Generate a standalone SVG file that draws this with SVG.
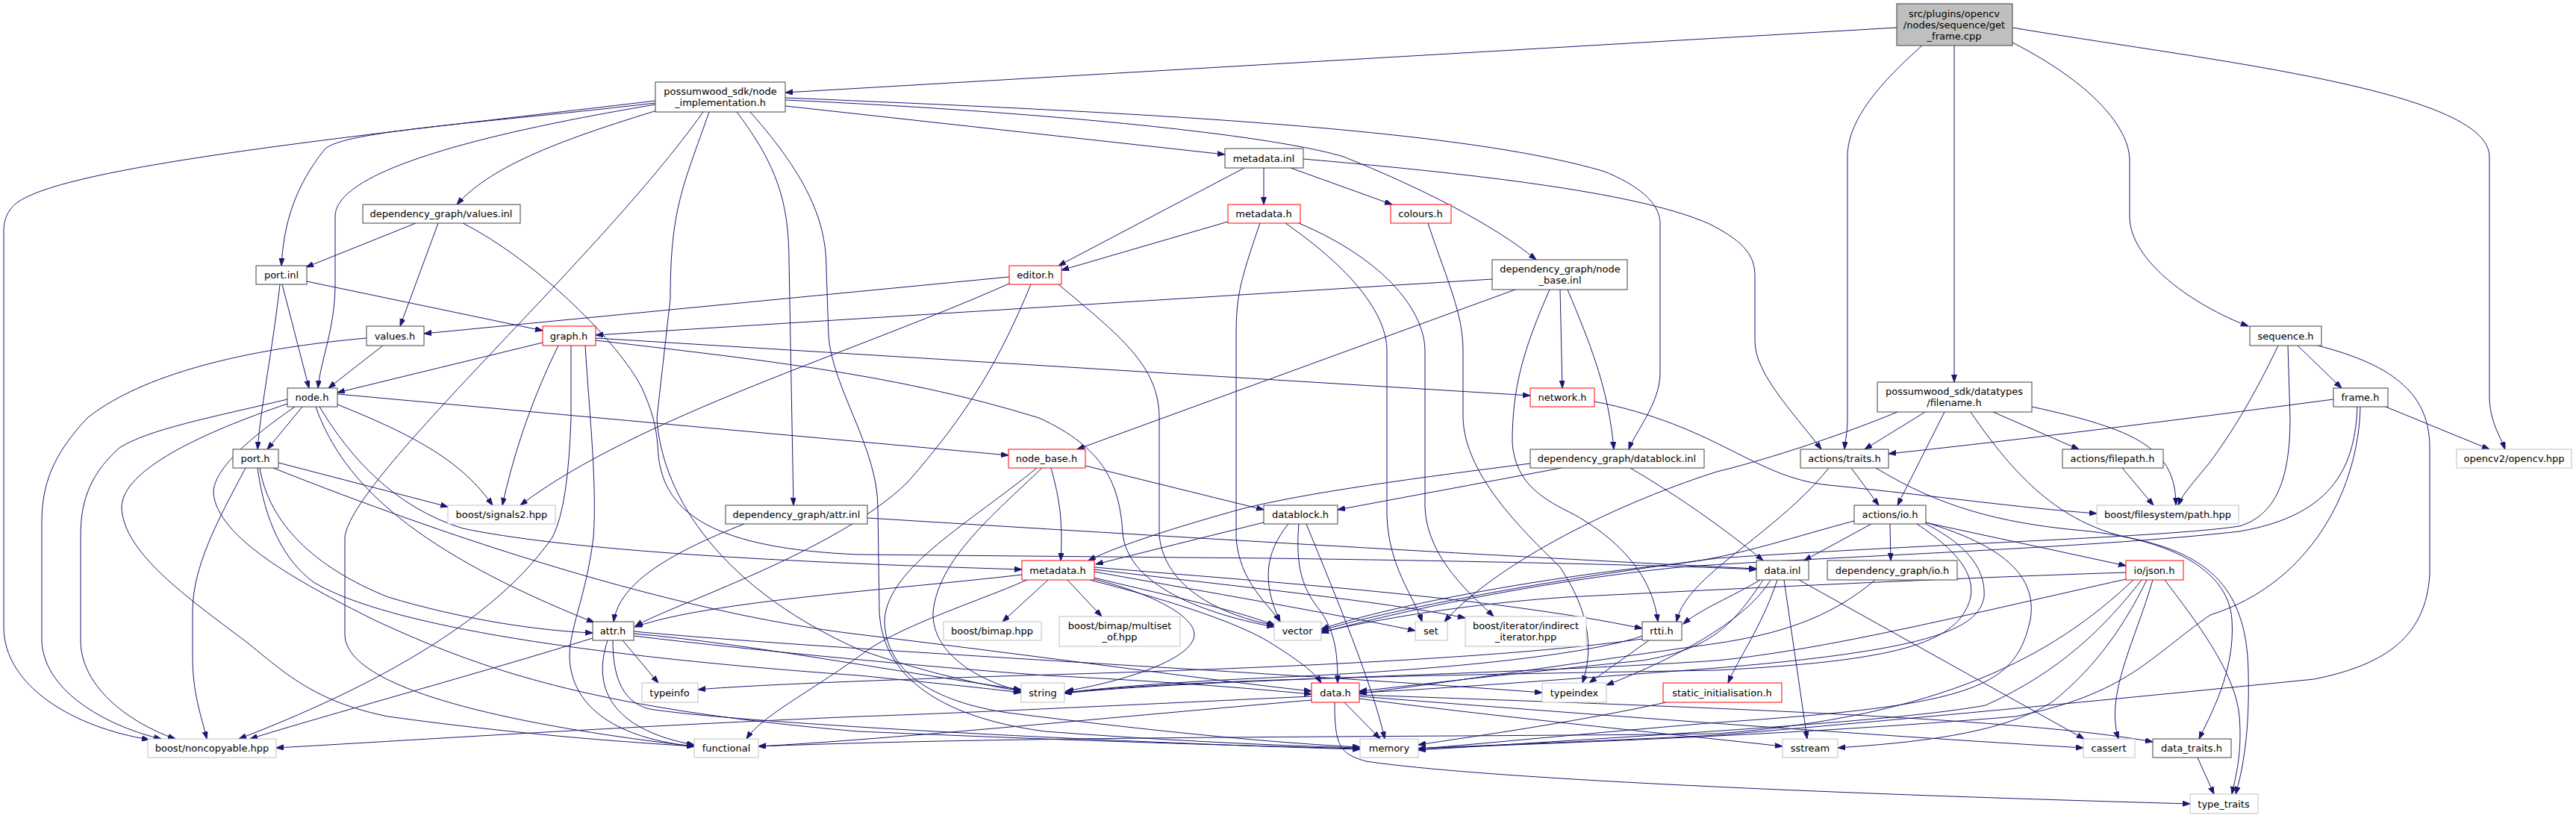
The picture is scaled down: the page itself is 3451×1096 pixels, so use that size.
<svg xmlns="http://www.w3.org/2000/svg" width="3451" height="1096" viewBox="0 0 3451 1096">
<style>
.n rect{fill:#fff;stroke:#404040;stroke-width:1}
.r rect{fill:#fff;stroke:#ff0000;stroke-width:1}
.x rect{fill:#fff;stroke:#bfbfbf;stroke-width:1}
.g rect{fill:#bfbfbf;stroke:#404040;stroke-width:1}
text{font-family:"DejaVu Sans","Liberation Sans",sans-serif;font-size:13px;text-anchor:middle;fill:#000}
#edges path{fill:none;stroke:#191970;stroke-width:1;marker-end:url(#ah)}
</style>
<defs>
<marker id="ah" markerWidth="11" markerHeight="8" refX="10" refY="3.5" orient="auto" markerUnits="userSpaceOnUse">
<path d="M0,0 L10,3.5 L0,7 z" fill="#191970" stroke="#191970" stroke-width="1"/>
</marker>
</defs>
<rect width="3451" height="1096" fill="#fff"/>
<g id="edges">
<path d="M2541,37 L1052,124"/>
<path d="M2618,61 L2618,512"/>
<path d="M2575,61 C2520,110 2475,160 2475,210 L2475,560 C2475,580 2472,590 2471,602"/>
<path d="M2696,57 C2800,110 2853,170 2853,215 L2853,290 C2853,350 2940,410 3012,437"/>
<path d="M2696,37 C2950,80 3335,120 3335,210 L3335,530 C3335,565 3350,585 3356,602"/>
<path d="M878,135 C500,180 100,220 25,270 C10,280 5,295 5,310 L5,840 C5,920 100,975 200,991"/>
<path d="M878,138 C650,165 460,175 435,200 C395,250 380,300 377,356"/>
<path d="M878,140 C640,180 449,230 449,290 L449,380 C449,440 430,480 426,520"/>
<path d="M880,148 C760,185 660,220 612,274"/>
<path d="M942,150 C800,350 470,640 462,720 L462,850 C462,940 800,985 930,1000"/>
<path d="M950,150 C915,250 898,280 898,400 L880,560 C885,650 950,780 1150,870 C1250,905 1330,920 1368,926"/>
<path d="M987,150 C1040,220 1057,270 1057,350 L1063,677"/>
<path d="M1005,150 C1085,240 1107,300 1107,360 L1110,450 C1115,520 1176,600 1176,680 L1178,817 C1180,900 1250,960 1400,980 C1600,995 1750,1000 1822,1002"/>
<path d="M1052,142 L1641,207"/>
<path d="M1052,134 C1400,150 1700,180 1800,210 C1900,250 2000,300 2058,348"/>
<path d="M1052,131 C1500,150 1950,170 2150,230 C2210,255 2224,280 2224,300 L2224,500 C2224,540 2190,580 2182,602"/>
<path d="M1667,225 L1418,356"/>
<path d="M1693,225 L1693,274"/>
<path d="M1729,225 L1865,274"/>
<path d="M1746,213 C2000,235 2200,260 2290,300 C2340,325 2351,345 2351,370 L2351,457 C2351,500 2400,550 2440,602"/>
<path d="M1645,297 L1422,362"/>
<path d="M1688,299 C1660,380 1656,400 1656,450 L1656,720 C1660,780 1700,810 1715,833"/>
<path d="M1722,299 C1810,360 1858,420 1858,470 L1858,690 C1860,760 1895,800 1905,833"/>
<path d="M1740,299 C1860,350 1909,420 1909,470 L1909,680 C1912,750 1975,800 2001,826"/>
<path d="M1913,299 C1940,380 1960,420 1960,470 L1960,560 C1962,640 2050,720 2090,760 C2130,820 2135,870 2120,915"/>
<path d="M1352,371 L568,447"/>
<path d="M1352,380 C1150,470 850,560 697,677"/>
<path d="M1381,381 C1340,480 1300,550 1216,646 C1120,740 900,810 851,839"/>
<path d="M1418,381 C1500,450 1553,490 1553,560 L1553,717 C1560,790 1640,825 1707,838"/>
<path d="M1999,374 L798,449"/>
<path d="M2030,388 L1443,602"/>
<path d="M2090,388 L2093,520"/>
<path d="M2100,388 C2130,460 2155,520 2162,602"/>
<path d="M2076,388 C2040,470 2026,520 2026,593 C2030,650 2070,670 2110,690 C2180,730 2215,780 2221,833"/>
<path d="M557,299 L410,358"/>
<path d="M587,299 L536,437"/>
<path d="M620,299 C720,350 830,460 860,520 C878,560 880,580 882,610 C890,690 960,735 1150,743 L1700,748 C2000,752 2250,758 2353,763"/>
<path d="M513,463 L440,520"/>
<path d="M491,453 C300,470 180,510 117,560 C70,610 56,650 56,700 L56,860 C60,930 150,975 216,990"/>
<path d="M411,377 L727,443"/>
<path d="M378,381 L414,520"/>
<path d="M375,381 C365,470 350,540 345,602"/>
<path d="M727,459 L452,526"/>
<path d="M748,463 C715,530 690,600 673,677"/>
<path d="M765,463 L765,560 C762,640 755,690 740,720 C650,850 450,940 320,990"/>
<path d="M784,463 C790,560 800,650 795,720 C785,800 763,840 763,880 C765,950 830,990 930,1000"/>
<path d="M798,453 L2050,530"/>
<path d="M798,456 C1000,480 1200,500 1392,560 C1480,600 1500,650 1504,714 C1510,780 1600,820 1707,840"/>
<path d="M405,545 L358,602"/>
<path d="M452,542 C560,585 620,620 660,677"/>
<path d="M423,545 C460,650 560,740 796,834"/>
<path d="M385,535 C280,560 200,575 160,600 C115,640 108,680 108,720 L108,860 C110,930 190,975 235,990"/>
<path d="M452,528 L1351,610"/>
<path d="M428,545 C470,615 530,680 620,708 C750,735 1000,752 1369,763"/>
<path d="M385,541 C270,580 163,630 163,680 C165,740 250,800 330,860 C380,900 420,940 520,960 C700,985 850,995 930,1000"/>
<path d="M395,545 C330,590 286,630 286,660 C290,720 400,780 500,830 C650,900 800,950 1150,980 C1500,995 1700,1000 1822,1003"/>
<path d="M373,620 L600,679"/>
<path d="M329,627 C290,700 258,760 258,820 L258,880 C258,930 270,960 277,990"/>
<path d="M348,627 C360,700 420,760 520,800 C620,830 720,845 794,848"/>
<path d="M345,627 C355,700 380,750 420,780 C520,840 800,880 1150,905 C1250,915 1320,922 1368,928"/>
<path d="M366,627 C600,720 900,820 1150,850 C1400,880 1650,915 1757,926"/>
<path d="M834,858 L882,915"/>
<path d="M794,855 C650,900 430,960 335,990"/>
<path d="M814,858 C790,930 830,980 930,998"/>
<path d="M849,849 C1000,862 1200,900 1368,924"/>
<path d="M849,852 C1000,870 1200,890 1400,905 C1600,915 1700,925 1757,930"/>
<path d="M821,858 C821,900 830,940 870,950 C1000,970 1500,995 1822,1004"/>
<path d="M849,846 C1100,870 1700,900 2066,928"/>
<path d="M1369,770 C1200,790 950,805 851,840"/>
<path d="M1376,777 C1300,810 1200,840 1150,880 C1080,930 1020,960 1000,990"/>
<path d="M1404,777 L1343,833"/>
<path d="M1430,777 L1476,826"/>
<path d="M1466,774 C1550,795 1650,815 1708,838"/>
<path d="M1466,766 C1600,790 1800,825 1896,845"/>
<path d="M1466,763 C1650,785 1850,805 1963,828"/>
<path d="M1466,760 C1700,780 2000,800 2200,842"/>
<path d="M1466,776 C1560,800 1600,830 1600,850 C1600,880 1520,910 1428,926"/>
<path d="M1460,777 C1550,800 1650,830 1700,860 C1740,885 1760,900 1770,915"/>
<path d="M1693,700 L1468,756"/>
<path d="M1726,702 C1695,740 1690,780 1715,833"/>
<path d="M1740,702 C1735,760 1745,790 1770,820 C1790,850 1792,880 1792,915"/>
<path d="M1750,702 C1790,800 1840,920 1855,990"/>
<path d="M2092,627 L1792,683"/>
<path d="M2050,621 C1900,640 1750,660 1663,682 C1580,705 1500,730 1458,751"/>
<path d="M2184,627 C2240,660 2300,700 2362,751"/>
<path d="M2136,538 C2300,570 2350,640 2450,650 C2600,665 2700,680 2809,688"/>
<path d="M997,702 C900,740 830,780 822,833"/>
<path d="M1162,694 C1500,715 2000,745 2353,762"/>
<path d="M2480,627 L2517,677"/>
<path d="M2450,627 C2400,690 2320,740 2280,780 C2260,800 2250,815 2246,833"/>
<path d="M2513,627 C2600,680 2680,700 2780,710 C2900,720 2985,760 2990,830 C2995,900 2960,960 2946,990"/>
<path d="M2507,702 L2417,751"/>
<path d="M2532,702 L2533,751"/>
<path d="M2579,700 L2848,758"/>
<path d="M2484,698 C2400,720 2330,745 2250,755 C2050,775 1850,815 1770,843"/>
<path d="M2568,702 C2625,740 2645,770 2640,800 C2625,860 2550,885 2300,898 C1900,905 1600,910 1426,928"/>
<path d="M2580,702 C2645,735 2660,770 2658,800 C2650,840 2600,870 2300,895 C2100,910 1900,925 1821,928"/>
<path d="M2580,700 C2680,730 2730,770 2720,830 C2700,920 2650,945 2300,968 C2100,985 1950,1000 1900,1003"/>
<path d="M2362,777 C2320,840 2290,870 2200,885 C2000,905 1880,920 1821,926"/>
<path d="M2358,777 C2320,800 2280,815 2255,836"/>
<path d="M2372,777 C2340,830 2250,880 2152,918"/>
<path d="M2381,777 C2360,840 2330,880 2315,915"/>
<path d="M2390,777 L2421,990"/>
<path d="M2410,777 L2792,990"/>
<path d="M2512,777 C2450,830 2380,850 2300,862 C2100,890 1900,920 1821,929"/>
<path d="M2848,767 C2600,775 2300,790 2100,800 C1950,810 1820,835 1770,847"/>
<path d="M2848,776 C2650,820 2450,870 2300,885 C2000,905 1600,910 1426,929"/>
<path d="M2869,777 C2820,840 2760,900 2660,945 C2550,965 2300,980 1900,1005"/>
<path d="M2876,777 C2840,850 2800,900 2750,940 C2680,985 2560,995 2462,1002"/>
<path d="M2884,777 C2860,860 2820,930 2838,990"/>
<path d="M2900,777 C2940,830 2995,900 3000,960 C3004,1010 2995,1040 2990,1064"/>
<path d="M2858,777 C2750,880 2600,960 2300,983 C1950,988 1400,985 1016,1000"/>
<path d="M2232,941 C2100,970 1950,990 1900,998"/>
<path d="M1801,941 L1849,990"/>
<path d="M1788,941 C1788,1000 1795,1010 1830,1020 C2000,1045 2500,1065 2934,1077"/>
<path d="M1757,933 C1500,945 1300,955 1150,960 C800,975 500,995 370,1002"/>
<path d="M1757,938 C1500,960 1200,990 1016,1000"/>
<path d="M1821,933 C2100,955 2500,985 2791,1002"/>
<path d="M1821,936 C2000,960 2300,990 2388,1000"/>
<path d="M1821,931 C2200,945 2700,960 2884,994"/>
<path d="M2209,858 L2129,915"/>
<path d="M2200,852 C2150,870 2000,895 1700,908 C1550,915 1480,922 1426,928"/>
<path d="M2200,856 C2000,885 1600,898 1440,903 C1200,910 1000,918 935,924"/>
<path d="M3078,463 L3137,520"/>
<path d="M3052,463 C3020,530 2990,580 2960,620 C2940,645 2925,660 2918,677"/>
<path d="M3065,463 L3068,560 C3068,640 3050,690 3000,705 C2900,720 2600,728 2300,748 C2050,780 1850,820 1770,845"/>
<path d="M3105,463 C3210,490 3255,530 3255,600 L3255,770 C3250,850 3200,890 3100,910 C2900,930 2600,960 2300,985 C2100,995 1950,1000 1900,1003"/>
<path d="M3126,535 C2900,565 2700,590 2530,608"/>
<path d="M3196,545 L3335,602"/>
<path d="M3158,545 C3155,620 3130,690 3000,712 C2800,735 2400,748 2250,760 C2050,780 1850,825 1770,848"/>
<path d="M3162,545 C3160,650 3100,780 2961,824 C2880,880 2850,930 2700,960 C2400,985 2100,995 1900,1003"/>
<path d="M2579,552 L2498,602"/>
<path d="M2605,552 L2542,677"/>
<path d="M2670,552 L2785,602"/>
<path d="M2722,545 C2860,575 2915,600 2915,677"/>
<path d="M2542,552 C2450,590 2350,620 2300,632 C2150,680 2000,760 1935,833"/>
<path d="M2640,552 C2700,640 2760,700 2850,720 C2950,740 3010,780 3012,900 C3014,980 3005,1030 2995,1064"/>
<path d="M2843,627 L2885,677"/>
<path d="M2944,1015 L2966,1064"/>
<path d="M1454,624 L1693,683"/>
<path d="M1408,627 C1420,670 1424,700 1421,751"/>
<path d="M1396,627 C1330,690 1257,750 1250,820 C1248,880 1320,915 1368,926"/>
<path d="M1389,627 C1300,700 1190,760 1185,830 C1185,900 1250,940 1350,955 C1550,980 1700,995 1822,1001"/>
</g>
<g id="n_get_frame" class="g"><rect x="2541" y="5" width="155" height="56"/><text x="2618" y="22.5">src/plugins/opencv</text><text x="2618" y="37.5">/nodes/sequence/get</text><text x="2618" y="52.5">_frame.cpp</text></g>
<g id="n_node_impl" class="n"><rect x="878" y="110" width="174" height="40"/><text x="965" y="127">possumwood_sdk/node</text><text x="965" y="142">_implementation.h</text></g>
<g id="n_metadata_inl" class="n"><rect x="1641" y="199" width="105" height="26"/><text x="1693" y="216.5">metadata.inl</text></g>
<g id="n_values_inl" class="n"><rect x="486" y="274" width="211" height="25"/><text x="591" y="291">dependency_graph/values.inl</text></g>
<g id="n_metadata_h_top" class="r"><rect x="1645" y="274" width="97" height="25"/><text x="1693" y="291">metadata.h</text></g>
<g id="n_colours" class="r"><rect x="1863" y="274" width="81" height="25"/><text x="1903" y="291">colours.h</text></g>
<g id="n_port_inl" class="n"><rect x="343" y="356" width="68" height="25"/><text x="377" y="373">port.inl</text></g>
<g id="n_editor" class="r"><rect x="1352" y="356" width="70" height="25"/><text x="1387" y="373">editor.h</text></g>
<g id="n_node_base_inl" class="n"><rect x="1999" y="348" width="181" height="40"/><text x="2090" y="365">dependency_graph/node</text><text x="2090" y="380">_base.inl</text></g>
<g id="n_values_h" class="n"><rect x="491" y="437" width="77" height="26"/><text x="529" y="454.5">values.h</text></g>
<g id="n_graph" class="r"><rect x="727" y="437" width="71" height="26"/><text x="762" y="454.5">graph.h</text></g>
<g id="n_sequence" class="n"><rect x="3014" y="437" width="96" height="26"/><text x="3062" y="454.5">sequence.h</text></g>
<g id="n_node_h" class="n"><rect x="385" y="520" width="67" height="25"/><text x="418" y="537">node.h</text></g>
<g id="n_network" class="r"><rect x="2050" y="520" width="86" height="25"/><text x="2093" y="537">network.h</text></g>
<g id="n_filename" class="n"><rect x="2515" y="512" width="207" height="40"/><text x="2618" y="529">possumwood_sdk/datatypes</text><text x="2618" y="544">/filename.h</text></g>
<g id="n_frame" class="n"><rect x="3126" y="520" width="73" height="25"/><text x="3162" y="537">frame.h</text></g>
<g id="n_port_h" class="n"><rect x="312" y="602" width="61" height="25"/><text x="342" y="619">port.h</text></g>
<g id="n_node_base_h" class="r"><rect x="1351" y="602" width="103" height="25"/><text x="1402" y="619">node_base.h</text></g>
<g id="n_datablock_inl" class="n"><rect x="2050" y="602" width="233" height="25"/><text x="2166" y="619">dependency_graph/datablock.inl</text></g>
<g id="n_traits" class="n"><rect x="2412" y="602" width="118" height="25"/><text x="2471" y="619">actions/traits.h</text></g>
<g id="n_filepath" class="n"><rect x="2763" y="602" width="135" height="25"/><text x="2830" y="619">actions/filepath.h</text></g>
<g id="n_opencv" class="x"><rect x="3291" y="602" width="154" height="25"/><text x="3368" y="619">opencv2/opencv.hpp</text></g>
<g id="n_signals2" class="x"><rect x="600" y="677" width="144" height="25"/><text x="672" y="694">boost/signals2.hpp</text></g>
<g id="n_attr_inl" class="n"><rect x="972" y="677" width="190" height="25"/><text x="1067" y="694">dependency_graph/attr.inl</text></g>
<g id="n_datablock_h" class="n"><rect x="1693" y="677" width="99" height="25"/><text x="1742" y="694">datablock.h</text></g>
<g id="n_io_h" class="n"><rect x="2484" y="677" width="96" height="25"/><text x="2532" y="694">actions/io.h</text></g>
<g id="n_path" class="x"><rect x="2809" y="677" width="190" height="25"/><text x="2904" y="694">boost/filesystem/path.hpp</text></g>
<g id="n_metadata_h_low" class="r"><rect x="1369" y="751" width="97" height="26"/><text x="1417" y="768.5">metadata.h</text></g>
<g id="n_data_inl" class="n"><rect x="2353" y="751" width="70" height="26"/><text x="2388" y="768.5">data.inl</text></g>
<g id="n_dg_io" class="n"><rect x="2448" y="751" width="174" height="26"/><text x="2535" y="768.5">dependency_graph/io.h</text></g>
<g id="n_json" class="r"><rect x="2848" y="751" width="77" height="26"/><text x="2886" y="768.5">io/json.h</text></g>
<g id="n_attr_h" class="n"><rect x="794" y="833" width="55" height="25"/><text x="821" y="850">attr.h</text></g>
<g id="n_bimap" class="x"><rect x="1264" y="833" width="131" height="25"/><text x="1329" y="850">boost/bimap.hpp</text></g>
<g id="n_multiset" class="x"><rect x="1419" y="826" width="162" height="40"/><text x="1500" y="843">boost/bimap/multiset</text><text x="1500" y="858">_of.hpp</text></g>
<g id="n_vector" class="x"><rect x="1707" y="833" width="63" height="25"/><text x="1738" y="850">vector</text></g>
<g id="n_set" class="x"><rect x="1896" y="833" width="43" height="25"/><text x="1917" y="850">set</text></g>
<g id="n_indirect" class="x"><rect x="1963" y="826" width="162" height="40"/><text x="2044" y="843">boost/iterator/indirect</text><text x="2044" y="858">_iterator.hpp</text></g>
<g id="n_rtti" class="n"><rect x="2200" y="833" width="53" height="25"/><text x="2226" y="850">rtti.h</text></g>
<g id="n_typeinfo" class="x"><rect x="860" y="915" width="75" height="26"/><text x="897" y="932.5">typeinfo</text></g>
<g id="n_string" class="x"><rect x="1368" y="915" width="58" height="26"/><text x="1397" y="932.5">string</text></g>
<g id="n_data_h" class="r"><rect x="1757" y="915" width="64" height="26"/><text x="1789" y="932.5">data.h</text></g>
<g id="n_typeindex" class="x"><rect x="2066" y="915" width="86" height="26"/><text x="2109" y="932.5">typeindex</text></g>
<g id="n_static_init" class="r"><rect x="2228" y="915" width="159" height="26"/><text x="2307" y="932.5">static_initialisation.h</text></g>
<g id="n_noncopyable" class="x"><rect x="198" y="990" width="172" height="25"/><text x="284" y="1007">boost/noncopyable.hpp</text></g>
<g id="n_functional" class="x"><rect x="930" y="990" width="86" height="25"/><text x="973" y="1007">functional</text></g>
<g id="n_memory" class="x"><rect x="1822" y="990" width="78" height="25"/><text x="1861" y="1007">memory</text></g>
<g id="n_sstream" class="x"><rect x="2388" y="990" width="74" height="25"/><text x="2425" y="1007">sstream</text></g>
<g id="n_cassert" class="x"><rect x="2791" y="990" width="69" height="25"/><text x="2825" y="1007">cassert</text></g>
<g id="n_data_traits" class="n"><rect x="2884" y="990" width="105" height="25"/><text x="2936" y="1007">data_traits.h</text></g>
<g id="n_type_traits" class="x"><rect x="2934" y="1064" width="91" height="26"/><text x="2979" y="1081.5">type_traits</text></g>
</svg>
